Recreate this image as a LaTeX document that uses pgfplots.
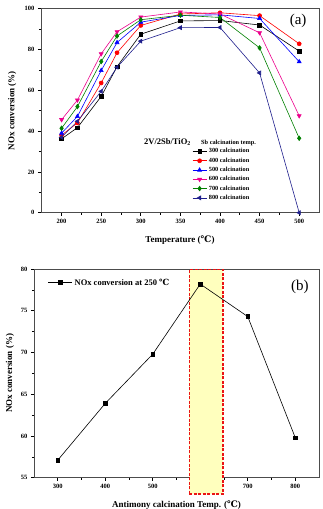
\documentclass[border=0pt]{standalone}
\usepackage{fontspec}
\setmainfont{Liberation Serif}
\newfontfamily\dv{DejaVu Serif}
\usepackage{pgfplots}
\pgfplotsset{compat=1.18}
\definecolor{cgreen}{RGB}{0,128,0}
\definecolor{cnavy}{RGB}{30,30,140}
\definecolor{hl}{RGB}{255,255,190}
\definecolor{rdash}{RGB}{235,20,20}
\newcommand{\dC}{{\dv ℃}}
\pgfplotsset{
  mystyle/.style={
    scale only axis,
    tick align=outside,
    xtick pos=lower, ytick pos=left,
    tick style={black, line width=0.6pt},
    major tick length=3pt, minor tick length=2pt,
    ticklabel style={font=\bfseries\fontsize{6.5}{7}\selectfont},
    /pgf/number format/assume math mode=true,
    axis line style={line width=0.8pt, black!70},
    every axis plot/.append style={line width=0.6pt},
    clip=false,
  }
}
\begin{document}
\begin{tikzpicture}
\useasboundingbox (-41pt,-296.3pt) rectangle (281pt,212.7pt);
\begin{axis}[mystyle,
  at={(0pt,0pt)}, anchor=south west,
  width=278pt, height=204pt,
  xmin=174, xmax=525, ymin=0, ymax=100,
  xtick={200,250,...,500}, minor x tick num=1,
  ytick={0,20,...,100}, minor y tick num=1,
  xlabel={Temperature (\dC)},
  ylabel={NOx conversion (\%)},
  xlabel style={at={(axis description cs:0.5,-0.135)}, anchor=center, font=\bfseries\fontsize{9}{10}\selectfont},
  ylabel style={at={(axis description cs:-0.104,0.5)}, anchor=center, rotate=0, font=\bfseries\fontsize{9}{10}\selectfont},
  legend style={at={(0.54,0.33)}, anchor=north west, draw=none, fill=none,
    font=\bfseries\fontsize{6.3}{7}\selectfont, row sep=-0.6pt, inner sep=1pt},
  legend image code/.code={\draw[mark repeat=2,mark phase=2] plot coordinates {(0pt,0pt) (7pt,0pt) (14pt,0pt)};},
  legend cell align=left,
  mark size=2pt,
]
\addplot[black, mark=square*, mark size=1.8pt] coordinates {(200,36.2)(220,41.7)(250,57)(270,71.6)(300,87.5)(350,94)(400,94.2)(450,92)(500,79.2)};
\addlegendentry{300 calcination}
\addplot[red, mark=*] coordinates {(200,38)(220,44)(250,63.6)(270,78.4)(300,91.8)(350,97.4)(400,98)(450,96.6)(500,82.8)};
\addlegendentry{400 calcination}
\addplot[blue, mark=triangle*, mark size=2.3pt] coordinates {(200,39)(220,47.2)(250,69.7)(270,83.4)(300,93.4)(350,96.7)(400,97)(450,95.2)(500,74)};
\addlegendentry{500 calcination}
\addplot[magenta, mark=triangle*, mark size=2.3pt, mark options={rotate=180}] coordinates {(200,45.6)(220,55.2)(250,77.9)(270,88.7)(300,95.9)(350,98.4)(400,97.4)(450,88.2)(500,47.5)};
\addlegendentry{600 calcination}
\addplot[cgreen, mark=diamond*, mark size=2.3pt] coordinates {(200,41.4)(220,52)(250,74.1)(270,86.6)(300,94.6)(350,96.8)(400,95.7)(450,80.8)(500,36.5)};
\addlegendentry{700 calcination}
\addplot[cnavy, mark=triangle*, mark size=2.3pt, mark options={rotate=90}] coordinates {(200,37)(220,44.8)(250,59.5)(270,71.3)(300,84.1)(350,90.7)(400,90.8)(450,68.5)(500,0)};
\addlegendentry{800 calcination}
\node[anchor=base west, font=\bfseries\fontsize{8.5}{9}\selectfont, inner sep=0pt] at (axis cs:304,33.5) {2V/2Sb/TiO\textsubscript{2}};
\node[anchor=base west, font=\bfseries\fontsize{6.3}{7}\selectfont, inner sep=0pt] at (axis cs:376,33.5) {Sb calcination temp.};
\node[font=\fontsize{15}{16}\selectfont] at (rel axis cs:0.925,0.94) {(a)};
\end{axis}

\begin{axis}[mystyle,
  at={(-7pt,-265pt)}, anchor=south west,
  width=285pt, height=208.7pt,
  xmin=250, xmax=850, ymin=55, ymax=80,
  xtick={300,400,...,800}, minor x tick num=1,
  ytick={55,60,...,80}, minor y tick num=1,
  xlabel={Antimony calcination Temp. (\dC)},
  ylabel={NOx conversion (\%)},
  xlabel style={at={(axis description cs:0.5,-0.13)}, anchor=center, font=\bfseries\fontsize{9}{10}\selectfont},
  ylabel style={at={(axis description cs:-0.084,0.5)}, anchor=center, rotate=0, font=\bfseries\fontsize{9}{10}\selectfont},
  legend style={at={(0.045,0.935)}, anchor=west, draw=none, fill=none,
    font=\bfseries\fontsize{8.5}{9}\selectfont, inner sep=1pt},
  legend image code/.code={\draw[mark repeat=2,mark phase=2] plot coordinates {(0pt,0pt) (12pt,0pt) (24pt,0pt)};},
]
\path[fill=hl] (axis cs:577,53.05) rectangle (axis cs:648,79.9);
\path[draw=rdash, dash pattern=on 3pt off 1.5pt, line width=1.2pt] (axis cs:577,53.05) rectangle (axis cs:648,79.9);
\addplot[black, mark=square*, mark size=1.8pt] coordinates {(300,57.1)(400,63.9)(500,69.8)(600,78.2)(700,74.3)(800,59.8)};
\addlegendentry{NOx conversion at 250 \dC}
\node[font=\fontsize{15}{16}\selectfont] at (rel axis cs:0.933,0.914) {(b)};
\end{axis}
\end{tikzpicture}
\end{document}
